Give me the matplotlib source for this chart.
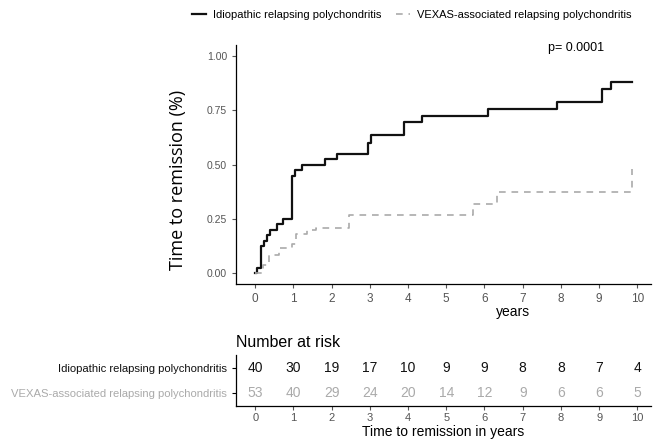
import numpy as np
import matplotlib
matplotlib.use("Agg")
import matplotlib.pyplot as plt

plt.rcParams.update({
    'font.family': 'Liberation Sans',
    'font.size': 8,
    'axes.linewidth': 0.9,
})

# step curves (time in years, cumulative remission)
irp_time = [0, 0.05, 0.15, 0.24, 0.3, 0.39, 0.56, 0.73, 0.97, 1.05, 1.22, 1.82, 2.14,
            2.95, 3.04, 3.89, 4.37, 6.1, 7.9, 9.07, 9.32, 9.87]
irp_val = [0, 0.025, 0.125, 0.15, 0.175, 0.2, 0.225, 0.25, 0.45, 0.475, 0.5, 0.525, 0.55,
           0.6, 0.635, 0.695, 0.725, 0.755, 0.79, 0.85, 0.88, 0.88]

vexas_time = [0, 0.21, 0.37, 0.63, 0.97, 1.06, 1.36, 1.59, 2.45, 5.7, 6.33, 9.85, 9.87]
vexas_val = [0, 0.04, 0.085, 0.115, 0.135, 0.18, 0.2, 0.21, 0.27, 0.32, 0.375, 0.48, 0.48]

risk_times = [0, 1, 2, 3, 4, 5, 6, 7, 8, 9, 10]
irp_risk = [40, 30, 19, 17, 10, 9, 9, 8, 8, 7, 4]
vexas_risk = [53, 40, 29, 24, 20, 14, 12, 9, 6, 6, 5]

groups = ['Idiopathic relapsing polychondritis', 'VEXAS-associated relapsing polychondritis']
p_text = 'p= 0.0001'

black = '#111111'
grey = '#aaaaaa'
tick_grey = '#555555'

fig = plt.figure(figsize=(6.54, 4.42), dpi=100)
ax = fig.add_axes([0.361, 0.357, 0.634, 0.541])
ax.step(irp_time, irp_val, where='post', color=black, lw=1.6, label=groups[0])
ax.step(vexas_time, vexas_val, where='post', color=grey, lw=1.2,
        linestyle=(0, (4, 3.5)), label=groups[1])

ax.set_xlim(-0.5, 10.35)
ax.set_ylim(-0.05, 1.05)
ax.set_xticks(risk_times)
ax.set_yticks([0, 0.25, 0.5, 0.75, 1.0])
ax.set_yticklabels(['0.00', '0.25', '0.50', '0.75', '1.00'])
ax.tick_params(colors=tick_grey, labelsize=7.5, length=3, width=0.8)
ax.tick_params(axis='x', labelsize=8.5)
for s in ['top', 'right']:
    ax.spines[s].set_visible(False)
ax.set_ylabel('Time to remission (%)', fontsize=13, family='Open Sans')
ax.yaxis.set_label_coords(-0.118, 0.435)
ax.text(0.668, -0.117, 'years', transform=ax.transAxes, fontsize=10, ha='center', va='center')
ax.text(8.4, 1.035, p_text, fontsize=9, ha='center', va='center')

leg = fig.legend(loc='center', bbox_to_anchor=(0.629, 0.966), ncol=2, frameon=False,
                 fontsize=8, handlelength=1.3, columnspacing=1.3, handletextpad=0.6)

# risk table
rax = fig.add_axes([0.361, 0.081, 0.634, 0.116])
rax.set_xlim(-0.5, 10.35)
rax.set_ylim(-0.5, 1.5)
for t, a, b in zip(risk_times, irp_risk, vexas_risk):
    rax.text(t, 1, str(a), color=black, fontsize=10, ha='center', va='center')
    rax.text(t, 0, str(b), color=grey, fontsize=10, ha='center', va='center')
rax.set_xticks(risk_times)
rax.set_yticks([1, 0])
rax.set_yticklabels(groups, fontsize=8.1)
rax.get_yticklabels()[0].set_color(black)
rax.get_yticklabels()[1].set_color(grey)
rax.tick_params(axis='x', colors=tick_grey, labelsize=8, length=3, width=0.8, pad=2)
rax.tick_params(axis='y', length=3, width=0.8)
for s in ['top', 'right']:
    rax.spines[s].set_visible(False)
rax.set_xlabel('Time to remission in years', fontsize=10, labelpad=1)
rax.set_title('Number at risk', fontsize=11.5, loc='left', x=0.0, pad=6)

fig.savefig('out.png', dpi=100)
